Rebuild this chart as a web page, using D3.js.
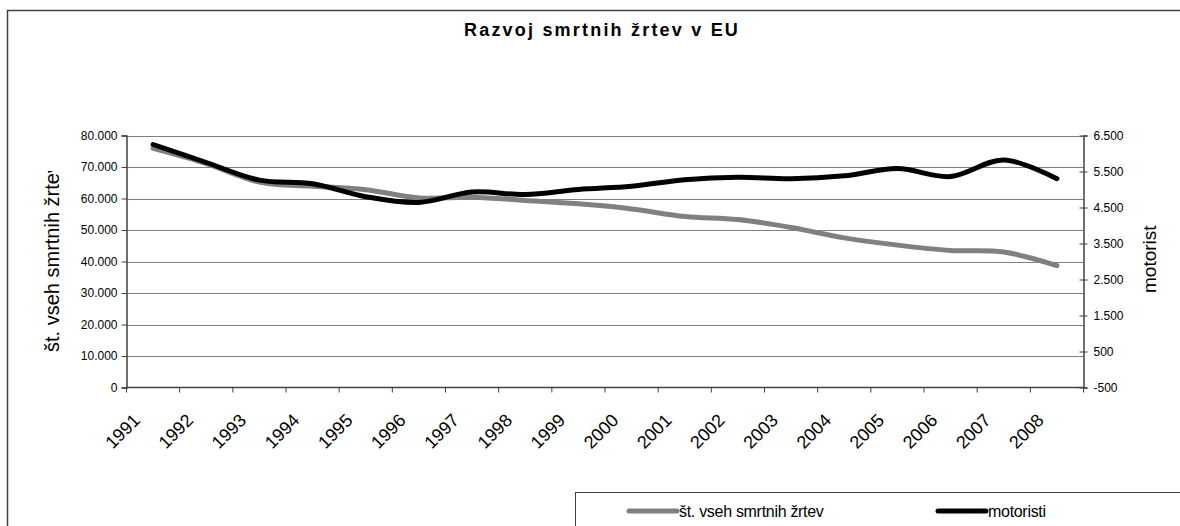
<!DOCTYPE html>
<html>
<head>
<meta charset="utf-8">
<script src="https://cdn.jsdelivr.net/npm/d3@7"></script>
<style>
  body { margin: 0; background: #fff; }
  svg text { font-family: "Liberation Sans", Arial, sans-serif; fill: #000; }
</style>
</head>
<body>
<div id="chart"></div>
<script>
var years = ["1991","1992","1993","1994","1995","1996","1997","1998","1999","2000","2001","2002","2003","2004","2005","2006","2007","2008"];
var vseZrtve = [75900, 71100, 65200, 63900, 62800, 60200, 60400, 59400, 58300, 56700, 54300, 53300, 50800, 47500, 45200, 43500, 43000, 38700];
var motoristi = [6250, 5750, 5260, 5160, 4800, 4640, 4930, 4860, 5000, 5090, 5270, 5340, 5300, 5380, 5580, 5360, 5820, 5300];
var leftTicks = [0, 10000, 20000, 30000, 40000, 50000, 60000, 70000, 80000];
var rightTicks = [-500, 500, 1500, 2500, 3500, 4500, 5500, 6500];
var seriesNames = ["št. vseh smrtnih žrtev", "motoristi"];
var chartTitle = "Razvoj smrtnih žrtev v EU";

var W = 1180, H = 526;
var plot = { left: 126.5, right: 1083.5, top: 135.5, bottom: 387.5 };

var si = d3.formatLocale({ decimal: ",", thousands: ".", grouping: [3], currency: ["", "€"], minus: "-" });
var fmt = si.format(",d");

var svg = d3.select("#chart").append("svg")
	.attr("width", W).attr("height", H);

// chart border, runs off the right and bottom
svg.append("rect")
	.attr("x", 7.5).attr("y", 10.5)
	.attr("width", W + 20).attr("height", H + 20)
	.attr("fill", "none").attr("stroke", "#404040").attr("stroke-width", 1.5);

svg.append("text")
	.attr("x", 602).attr("y", 36)
	.attr("text-anchor", "middle")
	.style("font-size", "18px").style("font-weight", "bold").style("letter-spacing", "2.2px")
	.text(chartTitle);

var x = d3.scaleBand().domain(years).range([plot.left, plot.right]).padding(0);
var yL = d3.scaleLinear().domain([0, 80000]).range([plot.bottom, plot.top]);
var yR = d3.scaleLinear().domain([-500, 6500]).range([plot.bottom, plot.top]);

// grid
svg.append("g").selectAll("line")
	.data(leftTicks.filter(function(d) { return d > 0; }))
	.enter().append("line")
	.attr("x1", plot.left).attr("x2", plot.right)
	.attr("y1", function(d) { return Math.round(yL(d)) + 0.5; })
	.attr("y2", function(d) { return Math.round(yL(d)) + 0.5; })
	.attr("stroke", "#808080").attr("stroke-width", 1);

// left axis
var gL = svg.append("g")
	.attr("transform", "translate(" + plot.left + ",0)")
	.call(d3.axisLeft(yL).tickValues(leftTicks).tickFormat(fmt).tickSize(5).tickPadding(4));
gL.select(".domain").attr("stroke", "#404040").attr("stroke-width", 1.5);
gL.selectAll(".tick line").attr("stroke", "#404040");
gL.selectAll(".tick text").style("font-size", "12px").style("font-family", "'Liberation Sans', Arial, sans-serif").attr("fill", "#000");

// right axis, ticks cross the line
var gR = svg.append("g")
	.attr("transform", "translate(" + plot.right + ",0)")
	.call(d3.axisRight(yR).tickValues(rightTicks).tickFormat(fmt).tickSize(4).tickPadding(6));
gR.select(".domain").attr("stroke", "#404040").attr("stroke-width", 1.5);
gR.selectAll(".tick line").attr("x1", -4).attr("x2", 4).attr("stroke", "#404040");
gR.selectAll(".tick text").style("font-size", "12px").style("font-family", "'Liberation Sans', Arial, sans-serif").attr("fill", "#000");

// x axis
svg.append("line")
	.attr("x1", plot.left).attr("x2", plot.right)
	.attr("y1", plot.bottom).attr("y2", plot.bottom)
	.attr("stroke", "#404040").attr("stroke-width", 1.5);

svg.append("g").selectAll("line")
	.data(d3.range(years.length + 1))
	.enter().append("line")
	.attr("x1", function(i) { return plot.left + i * x.step(); })
	.attr("x2", function(i) { return plot.left + i * x.step(); })
	.attr("y1", plot.bottom).attr("y2", plot.bottom + 5)
	.attr("stroke", "#404040");

svg.append("g").selectAll("text")
	.data(years)
	.enter().append("text")
	.attr("text-anchor", "end")
	.attr("transform", function(d) {
		return "translate(" + (x(d) + x.bandwidth() / 2 - 12) + "," + (plot.bottom + 34) + ") rotate(-45)";
	})
	.style("font-size", "18px")
	.text(function(d) { return d; });

// axis titles (left one is cut at the top like in the original)
svg.append("clipPath").attr("id", "ltclip")
	.append("rect").attr("x", 0).attr("y", 171).attr("width", 120).attr("height", 300);

svg.append("g")
	.attr("clip-path", "url(#ltclip)")
	.append("text")
	.attr("transform", "translate(59,352) rotate(-90)")
	.attr("text-anchor", "start")
	.style("font-size", "20px")
	.text(seriesNames[0]);

svg.append("text")
	.attr("transform", "translate(1156,293) rotate(-90)")
	.attr("text-anchor", "start")
	.style("font-size", "19px")
	.text("motorist");

// lines
var cx = function(d, i) { return x(years[i]) + x.bandwidth() / 2; };

var lineL = d3.line()
	.x(cx)
	.y(function(d) { return yL(d); })
	.curve(d3.curveCardinal);

var lineR = d3.line()
	.x(cx)
	.y(function(d) { return yR(d); })
	.curve(d3.curveCardinal);

svg.append("path")
	.datum(vseZrtve)
	.attr("d", lineL)
	.attr("fill", "none").attr("stroke", "#808080").attr("stroke-width", 5)
	.attr("stroke-linecap", "round").attr("stroke-linejoin", "round");

svg.append("path")
	.datum(motoristi)
	.attr("d", lineR)
	.attr("fill", "none").attr("stroke", "#000").attr("stroke-width", 5)
	.attr("stroke-linecap", "round").attr("stroke-linejoin", "round");

// legend
svg.append("rect")
	.attr("x", 575.5).attr("y", 492.5)
	.attr("width", W).attr("height", 100)
	.attr("fill", "#fff").attr("stroke", "#404040").attr("stroke-width", 1);

var legItems = [
	{ name: seriesNames[0], color: "#808080", x0: 629 },
	{ name: seriesNames[1], color: "#000", x0: 938 }
];

var leg = svg.append("g").selectAll("g")
	.data(legItems)
	.enter().append("g");

leg.append("line")
	.attr("x1", function(d) { return d.x0; })
	.attr("x2", function(d) { return d.x0 + 48; })
	.attr("y1", 511).attr("y2", 511)
	.attr("stroke", function(d) { return d.color; })
	.attr("stroke-width", 5).attr("stroke-linecap", "round");

leg.append("text")
	.attr("x", function(d) { return d.x0 + 50; })
	.attr("y", 517)
	.style("font-size", "16px").style("letter-spacing", "-0.3px")
	.text(function(d) { return d.name; });
</script>
</body>
</html>
